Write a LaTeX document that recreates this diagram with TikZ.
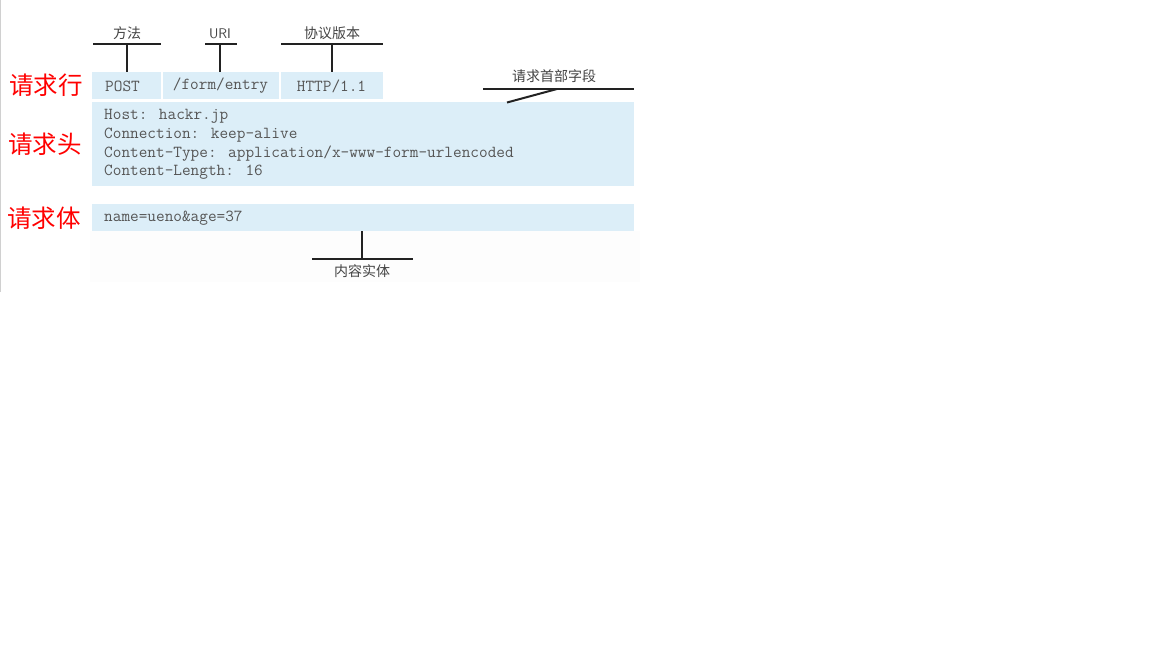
\documentclass[tikz,border=0pt]{standalone}
\usepackage{fontspec}
\newfontfamily\cjk{Noto Sans CJK SC}
\definecolor{boxblue}{HTML}{DCEEF8}
\definecolor{txtgray}{HTML}{555555}
\definecolor{lblgray}{HTML}{444444}
\definecolor{linegray}{HTML}{222222}
\definecolor{edgegray}{HTML}{D0D0D0}
\definecolor{faint}{HTML}{FDFDFD}
\tikzset{
  cell/.style={fill=boxblue, draw=none, inner sep=0pt, anchor=north west},
  mono/.style={font=\ttfamily\fontsize{16.8pt}{18pt}\selectfont, text=txtgray, inner sep=0pt},
  redlbl/.style={font=\cjk\fontsize{24.5pt}{26pt}\selectfont, text=red, inner sep=0pt},
  graylbl/.style={font=\cjk\fontsize{14pt}{16pt}\selectfont, text=lblgray, inner sep=0pt},
  bar/.style={draw=linegray, line width=2.4pt},
  stem/.style={draw=linegray, line width=2pt}
}
\begin{document}
\begin{tikzpicture}[x=1pt,y=-1pt]
\useasboundingbox (0,0) rectangle (1152,648);
\fill[white] (0,0) rectangle (1152,648);
\fill[faint] (90,231) rectangle (640,282);
\draw[edgegray, line width=1pt] (0.5,0) -- (0.5,292);

% request line cells
\node[cell, minimum width=69pt, minimum height=27pt] (post) at (92,72) {};
\node[cell, minimum width=116pt, minimum height=27pt] (uri) at (163,72) {};
\node[cell, minimum width=102pt, minimum height=27pt] (ver) at (281,72) {};
% header and body
\node[cell, minimum width=542pt, minimum height=84pt] (hdr) at (92,102) {};
\node[cell, minimum width=542pt, minimum height=27pt] (body) at (92,204) {};

% texts
\node[mono] (tpost) at (122.5,86) {POST};
\node[mono] (turi) at (220.5,86) {/form/entry};
\node[mono] (tver) at (331.5,86) {HTTP/1.1};
\node[mono, anchor=west] (h1) at (104,116.5) {Host: hackr.jp};
\node[mono, anchor=west] (h2) at (104,135) {Connection: keep-alive};
\node[mono, anchor=west] (h3) at (104,153.5) {Content-Type: application/x-www-form-urlencoded};
\node[mono, anchor=west] (h4) at (104,172) {Content-Length: 16};
\node[mono, anchor=west] (b1) at (104,218) {name=ueno\&age=37};

% red labels
\node[redlbl] (lline) at (46,85.5) {请求行};
\node[redlbl] (lhead) at (45,144) {请求头};
\node[redlbl] (lbody) at (44,218) {请求体};

% gray labels
\node[graylbl] (lmethod) at (127,33.5) {方法};
\node[font=\sffamily\fontsize{14pt}{16pt}\selectfont, text=lblgray, inner sep=0pt] (luri) at (220,33.5) {URI};
\node[graylbl] (lver) at (332,33.5) {协议版本};
\node[graylbl] (lhf) at (554,76.5) {请求首部字段};
\node[graylbl] (lent) at (362,271.5) {内容实体};

% bars and stems
\coordinate (mb) at (127,44);
\draw[bar] (93,44) -- (161,44);
\draw[stem] (mb) -- (post.north -| mb);
\coordinate (ub) at (220,44);
\draw[bar] (205,44) -- (237,44);
\draw[stem] (ub) -- (uri.north -| ub);
\coordinate (vb) at (332,44);
\draw[bar] (281,44) -- (383,44);
\draw[stem] (vb) -- (ver.north -| vb);

\coordinate (hfb) at (557,89);
\draw[bar] (483,89) -- (634,89);
\draw[stem] (hfb) -- (507,102.5);

\coordinate (eb) at (362,259);
\draw[stem] (body.south -| eb) -- (eb);
\draw[bar] (312,259) -- (413,259);
\end{tikzpicture}
\end{document}
